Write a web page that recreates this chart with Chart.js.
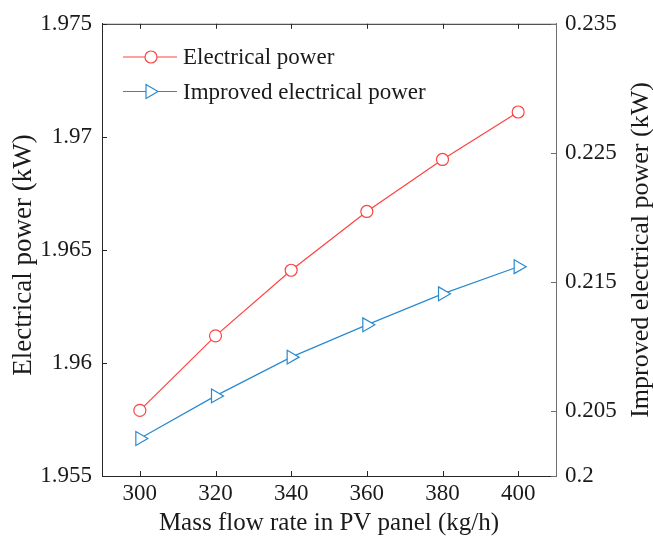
<!DOCTYPE html>
<html>
<head>
<meta charset="utf-8">
<script src="https://cdn.jsdelivr.net/npm/chart.js@4"></script>
<style>
  html, body { margin: 0; background: #fff; }
  #wrap { width: 653px; height: 540px; }
</style>
</head>
<body>
<div id="wrap"><canvas id="c"></canvas></div>
<script>
// data
const flowRates = [300, 320, 340, 360, 380, 400];
const electricalPower = [1.9579, 1.9612, 1.9641, 1.9667, 1.9690, 1.9711];
const improvedPower = [0.2029, 0.2062, 0.2092, 0.2117, 0.2141, 0.2162];
const xTicks = [300, 320, 340, 360, 380, 400];
const leftTicks = [1.955, 1.96, 1.965, 1.97, 1.975];
const rightTicks = [0.2, 0.205, 0.215, 0.225, 0.235];

const FONT = '"Liberation Serif", "Times New Roman", serif';
const AXIS = '#262626';
const TEXT = '#1a1a1a';
const RED = '#ff4242';
const BLUE = '#2a8ad0';

const pts = (xs, ys) => xs.map((x, i) => ({ x: x, y: ys[i] }));

// inward ticks, top frame line, legend and the vertical titles
const decorations = {
  id: 'decorations',
  afterDraw(chart) {
    const ctx = chart.ctx;
    const a = chart.chartArea;
    const { x, y, y1 } = chart.scales;
    const len = 5;
    ctx.save();
    ctx.lineWidth = 1;
    ctx.strokeStyle = AXIS;
    ctx.beginPath();
    ctx.moveTo(a.left, a.top + 0.5);
    ctx.lineTo(a.right, a.top + 0.5);
    xTicks.forEach(v => {
      const px = Math.round(x.getPixelForValue(v)) + 0.5;
      ctx.moveTo(px, a.bottom); ctx.lineTo(px, a.bottom - len);
      ctx.moveTo(px, a.top); ctx.lineTo(px, a.top + len);
    });
    leftTicks.forEach(v => {
      const py = Math.round(y.getPixelForValue(v)) + 0.5;
      ctx.moveTo(a.left, py); ctx.lineTo(a.left + len, py);
    });
    ctx.stroke();
    ctx.strokeStyle = '#6e6e6e';
    ctx.beginPath();
    rightTicks.forEach(v => {
      const py = Math.round(y1.getPixelForValue(v)) + 0.5;
      ctx.moveTo(a.right, py); ctx.lineTo(a.right - len, py);
    });
    ctx.stroke();

    // legend
    ctx.font = '23px ' + FONT;
    ctx.textBaseline = 'middle';
    chart.data.datasets.forEach((ds, i) => {
      const ly = 57 + i * 34.5;
      ctx.strokeStyle = ds.borderColor;
      ctx.lineWidth = 1.2;
      ctx.beginPath();
      ctx.moveTo(123, ly); ctx.lineTo(177, ly);
      ctx.stroke();
      ctx.fillStyle = '#fff';
      ctx.beginPath();
      if (ds.pointStyle === 'circle') {
        ctx.arc(151, ly, 6, 0, Math.PI * 2);
      } else {
        ctx.moveTo(146, ly - 7); ctx.lineTo(158, ly); ctx.lineTo(146, ly + 7); ctx.closePath();
      }
      ctx.fill();
      ctx.stroke();
      ctx.fillStyle = TEXT;
      ctx.fillText(ds.label, 183, ly + 1);
    });

    // vertical axis titles, both reading bottom to top
    ctx.textAlign = 'center';
    ctx.fillStyle = TEXT;
    const vTitle = (text, cx, cy, size) => {
      ctx.save();
      ctx.translate(cx, cy);
      ctx.rotate(-Math.PI / 2);
      ctx.font = size + 'px ' + FONT;
      ctx.fillText(text, 0, 0);
      ctx.restore();
    };
    vTitle('Electrical power (kW)', 24, 255, 27);
    vTitle('Improved electrical power (kW)', 641, 250, 26);
    ctx.restore();
  }
};

new Chart(document.getElementById('c'), {
  type: 'line',
  data: {
    datasets: [{
      label: 'Electrical power',
      data: pts(flowRates, electricalPower),
      yAxisID: 'y',
      borderColor: RED,
      backgroundColor: '#fff',
      borderWidth: 1.2,
      pointStyle: 'circle',
      pointRadius: 6,
      pointBorderWidth: 1.2,
      tension: 0
    }, {
      label: 'Improved electrical power',
      data: pts(flowRates, improvedPower),
      yAxisID: 'y1',
      borderColor: BLUE,
      backgroundColor: '#fff',
      borderWidth: 1.2,
      pointStyle: 'triangle',
      rotation: 90,
      pointRadius: 8,
      pointBorderWidth: 1.2,
      tension: 0
    }]
  },
  options: {
    responsive: true,
    maintainAspectRatio: false,
    animation: false,
    layout: { padding: { top: 22, left: 0, right: 0, bottom: 0 } },
    plugins: {
      legend: { display: false },
      tooltip: { enabled: false }
    },
    scales: {
      x: {
        type: 'linear',
        min: 290,
        max: 410,
        afterBuildTicks: s => { s.ticks = xTicks.map(v => ({ value: v })); },
        afterFit: s => { s.height = 64; },
        grid: { display: true, drawOnChartArea: false, drawTicks: false },
        border: { display: true, color: AXIS, width: 1 },
        ticks: { color: TEXT, font: { family: FONT, size: 23 }, padding: 4, maxRotation: 0 },
        title: {
          display: true,
          text: 'Mass flow rate in PV panel (kg/h)',
          color: TEXT,
          font: { family: FONT, size: 25 },
          padding: { top: 0, bottom: 2 }
        }
      },
      y: {
        position: 'left',
        min: 1.955,
        max: 1.975,
        afterBuildTicks: s => { s.ticks = leftTicks.map(v => ({ value: v })); },
        afterFit: s => { s.width = 102; },
        grid: { display: true, drawOnChartArea: false, drawTicks: false },
        border: { display: true, color: AXIS, width: 1 },
        ticks: { color: TEXT, font: { family: FONT, size: 23 }, padding: 10, callback: v => String(v) }
      },
      y1: {
        position: 'right',
        min: 0.2,
        max: 0.235,
        afterBuildTicks: s => { s.ticks = rightTicks.map(v => ({ value: v })); },
        afterFit: s => { s.width = 97; },
        grid: { display: true, drawOnChartArea: false, drawTicks: false },
        border: { display: true, color: '#6e6e6e', width: 1 },
        ticks: { color: TEXT, font: { family: FONT, size: 23 }, padding: 9, callback: v => String(v) }
      }
    }
  },
  plugins: [decorations]
});
</script>
</body>
</html>
